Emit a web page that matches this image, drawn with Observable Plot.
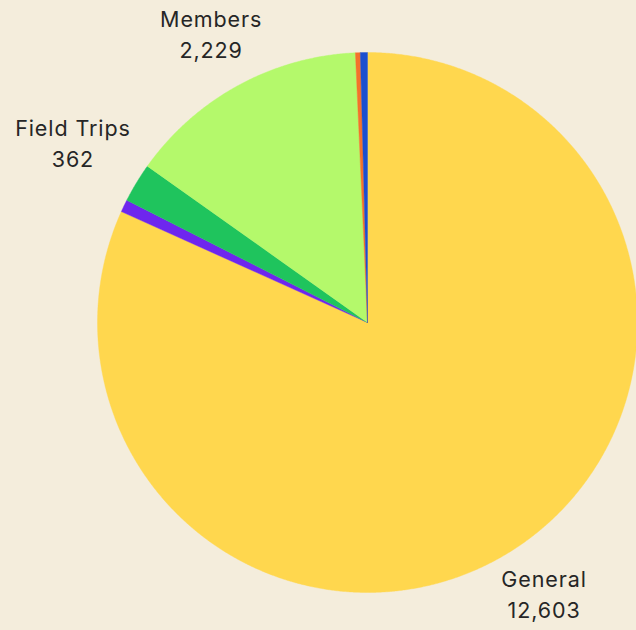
<!DOCTYPE html>
<html>
<head>
<meta charset="utf-8">
<script src="https://cdn.jsdelivr.net/npm/d3@7"></script>
<script src="https://cdn.jsdelivr.net/npm/@observablehq/plot@0.6"></script>
<style>
  html, body { margin: 0; padding: 0; background: #f4eddc; }
  #chart { width: 636px; height: 630px; overflow: hidden; }
  #chart svg text { letter-spacing: 0.9px; }
</style>
</head>
<body>
<div id="chart"></div>
<script>
// Slice data, clockwise from 12 o'clock
const categories = ["General", "Other A", "Field Trips", "Members", "Other B", "Other C"];
const values = [12603, 115, 362, 2229, 45, 65];
const labelled = ["General", "Field Trips", "Members"];
const colors = ["#ffd74e", "#6e26ee", "#1fc45d", "#b4f96b", "#f4722b", "#1b4fcf"];

// label distance from centre, as a multiple of the radius (layout setting)
const labelRadius = {"General": 1.205, "Field Trips": 1.275, "Members": 1.21};

const pie = d3.pie().sort(null).value(d => d.value);
const arcs = pie(categories.map((name, i) => ({name, value: values[i]})));

// polygon outline points in unit coordinates (y up, angle clockwise from north)
const pts = [];
for (const a of arcs) {
  const n = Math.max(2, Math.ceil((a.endAngle - a.startAngle) / 0.005));
  pts.push({name: a.data.name, x: 0, y: 0});
  for (let k = 0; k <= n; k++) {
    const t = a.startAngle + (a.endAngle - a.startAngle) * k / n;
    pts.push({name: a.data.name, x: Math.sin(t), y: Math.cos(t)});
  }
  pts.push({name: a.data.name, x: 0, y: 0});
}

const fmt = d3.format(",");
const labels = arcs.filter(a => labelled.includes(a.data.name)).map(a => {
  const m = (a.startAngle + a.endAngle) / 2;
  const r = labelRadius[a.data.name];
  return {x: r * Math.sin(m), y: r * Math.cos(m), text: a.data.name + "\n" + fmt(a.data.value)};
});

const R = 270, cx = 367, cy = 322, W = 636, H = 630;
const plot = Plot.plot({
  width: W,
  height: H,
  margin: 0,
  style: {background: "#f4eddc", fontFamily: "Inter, sans-serif"},
  x: {domain: [-cx / R, (W - cx) / R], axis: null},
  y: {domain: [-(H - cy) / R, cy / R], axis: null},
  color: {domain: categories, range: colors},
  marks: [
    Plot.line(pts, {x: "x", y: "y", z: "name", fill: "name", stroke: "name", strokeWidth: 0.4, curve: "linear"}),
    Plot.text(labels, {x: "x", y: "y", dy: -3, text: "text", fontSize: 21.5, lineHeight: 1.45, fill: "#262626", fontWeight: 400})
  ]
});
document.getElementById("chart").appendChild(plot);
</script>
</body>
</html>
